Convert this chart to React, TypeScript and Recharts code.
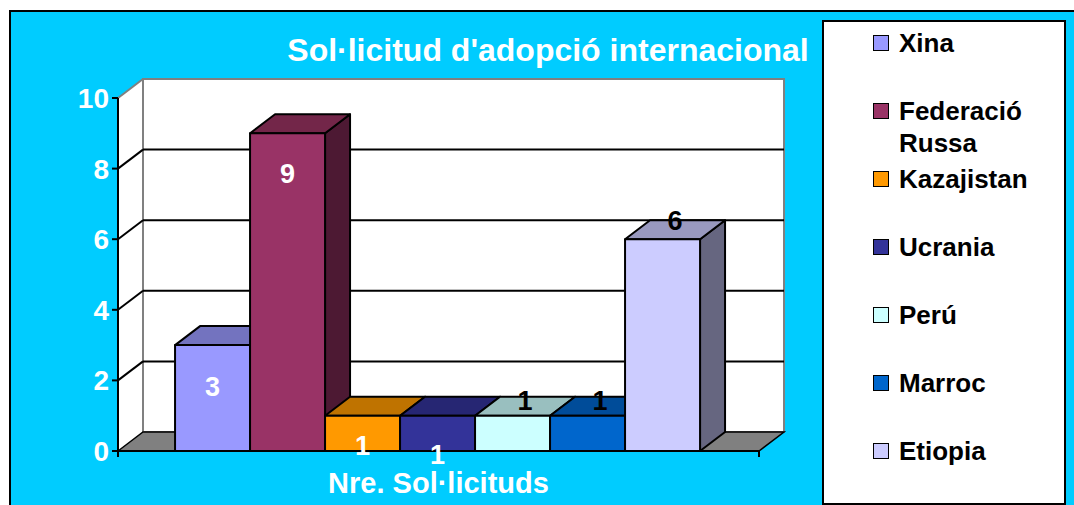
import { BarChart, Bar, XAxis, YAxis, CartesianGrid } from "recharts";

const category = "Nre. Sol·licituds";
const countries = ["Xina", "Federació Russa", "Kazajistan", "Ucrania", "Perú", "Marroc", "Etiopia"];
const requests = [3, 9, 1, 1, 1, 1, 6];
const yTicks = [0, 2, 4, 6, 8, 10];
const title = "Sol·licitud d'adopció internacional";

const frontColors = ["#9999FF", "#993366", "#FF9900", "#333399", "#CCFFFF", "#0066CC", "#CCCCFF"];
const topColors = ["#7373BF", "#732649", "#BF7300", "#262673", "#99BFBF", "#004C99", "#9999BF"];
const sideColors = ["#4D4D80", "#4D1933", "#804D00", "#1A1A4D", "#668080", "#003366", "#666680"];
// Excel put the white labels on the front face and the black ones on the top face
const labelColors = ["#fff", "#fff", "#fff", "#fff", "#000", "#000", "#000"];
const labelDy = [41, 40, 30, 39, -15, -15, -19];

const rows = [
  countries.reduce<Record<string, string | number>>(
    (row, c, i) => ({ ...row, [c]: requests[i] }),
    { name: category }
  ),
];

const DX = 25;
const DY = -19;
const FONT = "'Liberation Sans', Arial, sans-serif";

type Box = { x?: number; y?: number; width?: number; height?: number };

function Box3D({ x = 0, y = 0, width = 0, height = 0, i }: Box & { i: number }) {
  const top = `${x},${y} ${x + DX},${y + DY} ${x + width + DX},${y + DY} ${x + width},${y}`;
  const side = `${x + width},${y} ${x + width + DX},${y + DY} ${x + width + DX},${y + height + DY} ${x + width},${y + height}`;
  return (
    <g stroke="#000" strokeWidth={2} strokeLinejoin="round">
      <polygon points={side} fill={sideColors[i]} />
      <polygon points={top} fill={topColors[i]} />
      <rect x={x} y={y} width={width} height={height} fill={frontColors[i]} />
    </g>
  );
}

function barLabel(p: Box & { value?: number }, i: number) {
  const { x = 0, y = 0, width = 0, value } = p;
  const onTop = labelColors[i] === "#000";
  const cx = x + width / 2 + (onTop ? DX / 2 : 0);
  return (
    <text
      x={cx}
      y={y + labelDy[i]}
      dy="0.36em"
      textAnchor="middle"
      fontFamily={FONT}
      fontWeight="bold"
      fontSize={27}
      fill={labelColors[i]}
    >
      {value}
    </text>
  );
}

type LineProps = {
  x1?: number;
  x2?: number;
  y1?: number;
  y?: number;
  height?: number;
  index?: number;
};

// the 3D walls and floor ride along with the first grid line, so they sit behind everything
function wallLine(p: LineProps) {
  const { x1 = 0, x2 = 0, y1 = 0, y = 0, height = 0, index = 0 } = p;
  const top = y;
  const bottom = y + height;
  const inner = y1 > top + 1 && y1 < bottom - 1;
  return (
    <g key={`wall-${index}`}>
      {index === 0 && (
        <g>
          <polygon
            points={`${x1},${top} ${x1 + DX},${top + DY} ${x1 + DX},${bottom + DY} ${x1},${bottom}`}
            fill="#fff"
          />
          <line x1={x1} y1={top} x2={x1 + DX} y2={top + DY} stroke="#808080" strokeWidth={2} />
          <rect x={x1 + DX} y={top + DY} width={x2 - x1} height={height} fill="#fff" stroke="#808080" strokeWidth={2} />
          <polygon
            points={`${x1},${bottom} ${x1 + DX},${bottom + DY} ${x2 + DX},${bottom + DY} ${x2},${bottom}`}
            fill="#808080"
            stroke="#000"
            strokeWidth={1.5}
          />
          <line x1={x1} y1={bottom} x2={x1} y2={bottom + 6} stroke="#000" strokeWidth={2} />
          <line x1={x2} y1={bottom} x2={x2} y2={bottom + 6} stroke="#000" strokeWidth={2} />
        </g>
      )}
      {inner && (
        <g stroke="#000" strokeWidth={2}>
          <line x1={x1} y1={y1} x2={x1 + DX} y2={y1 + DY} />
          <line x1={x1 + DX} y1={y1 + DY} x2={x2 + DX} y2={y1 + DY} />
        </g>
      )}
    </g>
  );
}

function CategoryTick({ x = 0, y = 0, payload }: { x?: number; y?: number; payload?: { value?: string } }) {
  return (
    <text x={x} y={y + 34} textAnchor="middle" fontFamily={FONT} fontWeight="bold" fontSize={29} fill="#fff">
      {payload?.value}
    </text>
  );
}

export default function App() {
  return (
    <div style={{ position: "fixed", left: 0, top: 0, width: 1074, height: 505, overflow: "hidden", background: "#fff" }}>
      <div
        style={{
          position: "absolute",
          left: 9,
          top: 10,
          width: 1100,
          height: 520,
          border: "2px solid #000",
          background: "#00CCFF",
        }}
      />
      <div style={{ position: "absolute", left: 0, top: 0 }}>
        <BarChart
          width={1074}
          height={505}
          data={rows}
          margin={{ top: 98, right: 315, bottom: 14, left: 58 }}
          barCategoryGap="8.9%"
          barGap={0}
        >
          <CartesianGrid horizontal={wallLine} vertical={false} />
          <XAxis
            dataKey="name"
            height={40}
            interval={0}
            tickLine={false}
            axisLine={{ stroke: "#000", strokeWidth: 2 }}
            tick={<CategoryTick />}
          />
          <YAxis
            domain={[0, 10]}
            ticks={yTicks}
            width={60}
            tickSize={6}
            tickMargin={3}
            axisLine={{ stroke: "#000", strokeWidth: 2 }}
            tickLine={{ stroke: "#000", strokeWidth: 2 }}
            tick={{ fill: "#fff", fontSize: 28, fontWeight: "bold", fontFamily: FONT }}
          />
          {countries.map((c, i) => (
            <Bar
              key={c}
              dataKey={c}
              isAnimationActive={false}
              shape={(p: Box) => <Box3D {...p} i={i} />}
              label={(p: Box & { value?: number }) => barLabel(p, i)}
            />
          ))}
        </BarChart>
      </div>
      <div
        style={{
          position: "absolute",
          left: 0,
          top: 30,
          width: 1096,
          textAlign: "center",
          fontFamily: FONT,
          fontWeight: "bold",
          fontSize: 32,
          lineHeight: "40px",
          color: "#fff",
          whiteSpace: "nowrap",
        }}
      >
        {title}
      </div>
      <div
        style={{
          position: "absolute",
          left: 822,
          top: 20,
          width: 244,
          height: 485,
          boxSizing: "border-box",
          border: "2px solid #000",
          background: "#fff",
          fontFamily: FONT,
          fontWeight: "bold",
          fontSize: 26,
          color: "#000",
        }}
      >
        {countries.map((c, i) => (
          <div
            key={c}
            style={{ position: "absolute", left: 71, top: 5 + 68 * i, width: 160, lineHeight: "32px" }}
          >
            <span
              style={{
                position: "absolute",
                left: -22,
                top: 8,
                width: 14,
                height: 14,
                border: "1.5px solid #000",
                background: frontColors[i],
              }}
            />
            <span style={{ display: "block", paddingLeft: 4 }}>{c}</span>
          </div>
        ))}
      </div>
    </div>
  );
}
